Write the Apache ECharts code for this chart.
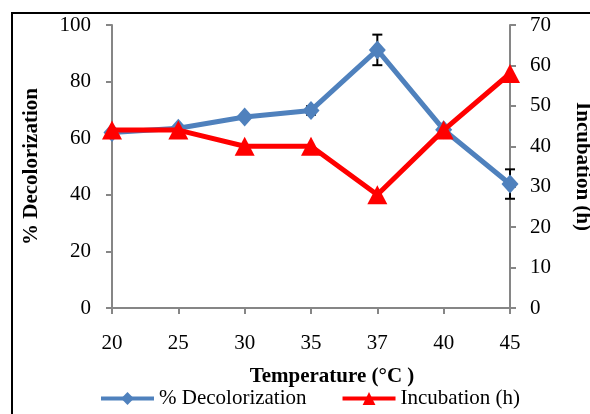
<!DOCTYPE html>
<html><head><meta charset="utf-8">
<script src="https://cdn.jsdelivr.net/npm/echarts@6/dist/echarts.min.js"></script>
<style>html,body{margin:0;padding:0;background:#fff}#c{width:590px;height:414px}</style>
</head><body><div id="c"></div>
<script>
const categories = ['20','25','30','35','37','40','45'];
const decolorization = [62, 63.5, 67.5, 69.8, 91.2, 63, 43.8];
const decolorError = [0, 0, 0, 1.5, 5.4, 0, 5.2];
const incubation = [44, 44, 40, 40, 28, 44, 58];
const leftTicks = {min: 0, max: 100, interval: 20};
const rightTicks = {min: 0, max: 70, interval: 10};

const errData = categories.map((c, i) => [i, decolorization[i] - decolorError[i], decolorization[i] + decolorError[i]]).filter((d, i) => decolorError[i] > 0);

const font = 'Liberation Serif';
const axisGray = '#868686';
const chart = echarts.init(document.getElementById('c'), null, {renderer: 'canvas'});
chart.setOption({
  animation: false,
  backgroundColor: '#fff',
  textStyle: {fontFamily: font},
  grid: {left: 112, right: 80, top: 25, bottom: 106, containLabel: false, outerBoundsMode: 'none'},
  graphic: [{type: 'rect', shape: {x: 12, y: 13, width: 620, height: 430}, style: {fill: 'none', stroke: '#000', lineWidth: 2}, silent: true, z: -1}],
  legend: {
    bottom: 0, left: 94, itemGap: 34, itemWidth: 53, itemHeight: 16,
    textStyle: {fontFamily: font, fontSize: 21, color: '#000'},
    data: [
      {name: '% Decolorization', lineStyle: {width: 4}},
      {name: 'Incubation (h)', lineStyle: {width: 4}}
    ]
  },
  xAxis: {
    type: 'category', data: categories, boundaryGap: false,
    name: 'Temperature (°C )', nameLocation: 'middle', nameGap: 58,
    nameTextStyle: {fontFamily: font, fontSize: 21, fontWeight: 'bold', color: '#000', padding: [0, 0, 0, 42]},
    axisLine: {lineStyle: {color: axisGray, width: 2}},
    axisTick: {alignWithLabel: true, length: 6, lineStyle: {color: axisGray, width: 2}},
    axisLabel: {fontFamily: font, fontSize: 21, color: '#000', margin: 25},
    splitLine: {show: false}
  },
  yAxis: [{
    type: 'value', min: leftTicks.min, max: leftTicks.max, interval: leftTicks.interval,
    name: '% Decolorization', nameLocation: 'middle', nameGap: 70, nameRotate: 90,
    nameTextStyle: {fontFamily: font, fontSize: 21, fontWeight: 'bold', color: '#000'},
    axisLine: {show: true, lineStyle: {color: axisGray, width: 2}},
    axisTick: {show: true, length: 6, lineStyle: {color: axisGray, width: 2}},
    axisLabel: {fontFamily: font, fontSize: 21, color: '#000', margin: 21},
    splitLine: {show: false}
  }, {
    type: 'value', min: rightTicks.min, max: rightTicks.max, interval: rightTicks.interval,
    position: 'right',
    name: 'Incubation (h)', nameLocation: 'middle', nameGap: 62, nameRotate: -90,
    nameTextStyle: {fontFamily: font, fontSize: 21, fontWeight: 'bold', color: '#000'},
    axisLine: {show: true, lineStyle: {color: axisGray, width: 2}},
    axisTick: {show: true, length: 6, lineStyle: {color: axisGray, width: 2}},
    axisLabel: {fontFamily: font, fontSize: 21, color: '#000', margin: 20},
    splitLine: {show: false}
  }],
  series: [{
    type: 'custom', name: 'err', yAxisIndex: 0, z: 1,
    data: errData,
    renderItem: function (params, api) {
      const x = api.value(0);
      const lo = api.coord([x, api.value(1)]);
      const hi = api.coord([x, api.value(2)]);
      const hw = 5;
      const st = {stroke: '#000', lineWidth: 2};
      return {type: 'group', children: [
        {type: 'line', shape: {x1: lo[0], y1: lo[1], x2: hi[0], y2: hi[1]}, style: st},
        {type: 'line', shape: {x1: lo[0] - hw, y1: lo[1], x2: lo[0] + hw, y2: lo[1]}, style: st},
        {type: 'line', shape: {x1: hi[0] - hw, y1: hi[1], x2: hi[0] + hw, y2: hi[1]}, style: st}
      ]};
    }
  }, {
    type: 'line', name: '% Decolorization', yAxisIndex: 0, z: 2,
    data: decolorization,
    symbol: 'diamond', symbolSize: [17, 19],
    lineStyle: {color: '#4F81BD', width: 5},
    itemStyle: {color: '#4F81BD'}
  }, {
    type: 'line', name: 'Incubation (h)', yAxisIndex: 1, z: 3,
    data: incubation,
    symbol: 'triangle', symbolSize: [20, 19],
    lineStyle: {color: '#FF0000', width: 5},
    itemStyle: {color: '#FF0000'}
  }]
});
</script></body></html>
